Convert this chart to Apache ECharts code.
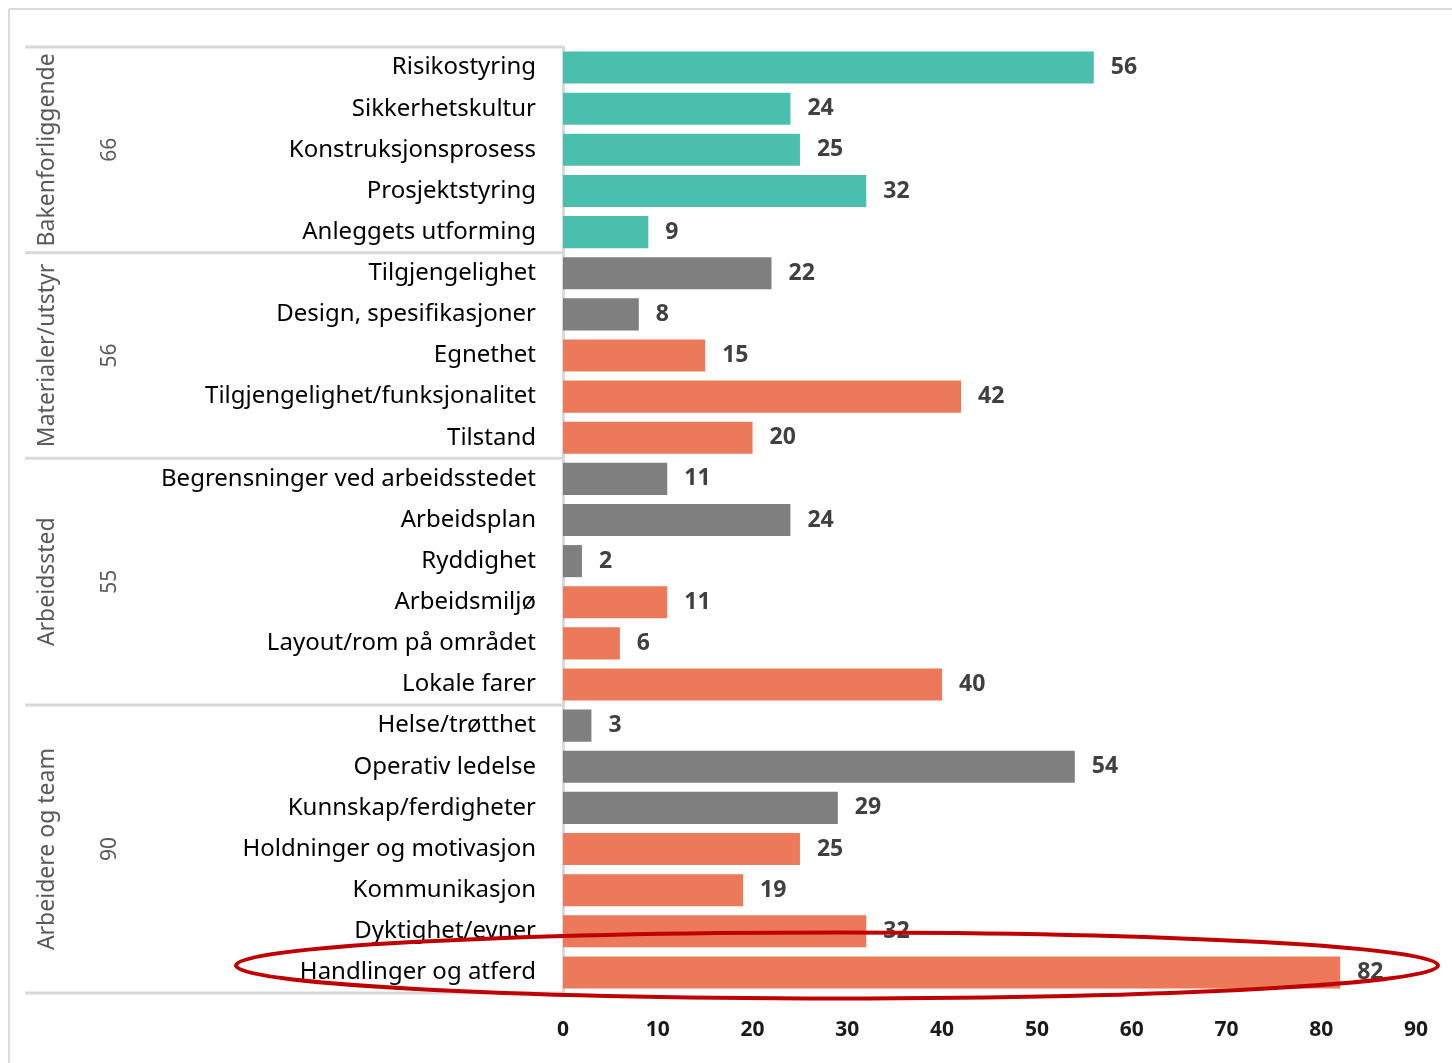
<!DOCTYPE html>
<html>
<head>
<meta charset="utf-8">
<script src="https://cdn.jsdelivr.net/npm/echarts@6/dist/echarts.min.js"></script>
<style>
html,body{margin:0;padding:0;background:#fff;}
#chart{width:1452px;height:1063px;}
</style>
</head>
<body>
<div id="chart"></div>
<script>
const categories = [
  "Risikostyring","Sikkerhetskultur","Konstruksjonsprosess","Prosjektstyring","Anleggets utforming",
  "Tilgjengelighet","Design, spesifikasjoner","Egnethet","Tilgjengelighet/funksjonalitet","Tilstand",
  "Begrensninger ved arbeidsstedet","Arbeidsplan","Ryddighet","Arbeidsmiljø","Layout/rom på området","Lokale farer",
  "Helse/trøtthet","Operativ ledelse","Kunnskap/ferdigheter","Holdninger og motivasjon","Kommunikasjon","Dyktighet/evner","Handlinger og atferd"
];
const values = [56,24,25,32,9, 22,8,15,42,20, 11,24,2,11,6,40, 3,54,29,25,19,32,82];
const colorKeys = ["t","t","t","t","t", "g","g","o","o","o", "g","g","g","o","o","o", "g","g","g","o","o","o","o"];
const groupNames = ["Bakenforliggende","Materialer/utstyr","Arbeidssted","Arbeidere og team"];
const groupTotals = ["66","56","55","90"];
const groupSizes = [5,5,6,7];
const xTicks = [0,10,20,30,40,50,60,70,80,90];

const palette = {t:"#4BBFAE", g:"#7F7F7F", o:"#EC795A"};
const chart = echarts.init(document.getElementById('chart'));
const option = {
  animation:false,
  grid:{left:563, right:36, top:47, bottom:70, containLabel:false},
  xAxis:{
    type:'value', min:xTicks[0], max:xTicks[xTicks.length-1], interval:10,
    axisLine:{show:false}, axisTick:{show:false}, splitLine:{show:false},
    axisLabel:{margin:27, fontSize:21, fontWeight:'bold', color:'#1a1a1a', fontFamily:'Noto Sans'}
  },
  yAxis:{
    type:'category', inverse:true, data:categories,
    axisLine:{show:true, lineStyle:{color:'#D9D9D9', width:3}},
    axisTick:{show:false},
    axisLabel:{margin:27, fontSize:24, color:'#000', fontFamily:'Noto Sans'}
  },
  series:[{
    type:'bar', barCategoryGap:'22%',
    data: values.map((v,i)=>({value:v, itemStyle:{color:palette[colorKeys[i]]}})),
    label:{show:true, position:'right', distance:17, fontSize:23, fontWeight:'bold', color:'#404040', fontFamily:'Noto Sans'}
  }]
};
chart.setOption(option);

// derive group graphics from the axis scale
const c0 = chart.convertToPixel({yAxisIndex:0}, 0);
const c1 = chart.convertToPixel({yAxisIndex:0}, 1);
const band = c1 - c0;
const axisX = chart.convertToPixel({xAxisIndex:0}, 0);
const graphics = [];
// outer frame
graphics.push({type:'line', shape:{x1:9,y1:9,x2:1452,y2:9}, style:{stroke:'#D9D9D9', lineWidth:2}, silent:true});
graphics.push({type:'line', shape:{x1:9,y1:9,x2:9,y2:1063}, style:{stroke:'#D9D9D9', lineWidth:2}, silent:true});
let start = 0;
const bounds = [c0 - band/2];
groupSizes.forEach((n,gi)=>{
  const top = chart.convertToPixel({yAxisIndex:0}, start) - band/2;
  const bot = chart.convertToPixel({yAxisIndex:0}, start+n-1) + band/2;
  bounds.push(bot);
  const mid = (top+bot)/2;
  graphics.push({type:'text', x:47, y:mid, rotation:Math.PI/2,
    style:{text:groupNames[gi], fontSize:23, fill:'#595959', fontFamily:'Noto Sans', align:'center', verticalAlign:'middle'}, silent:true});
  graphics.push({type:'text', x:110, y:mid, rotation:Math.PI/2,
    style:{text:groupTotals[gi], fontSize:21, fill:'#595959', fontFamily:'Noto Sans', align:'center', verticalAlign:'middle'}, silent:true});
  start += n;
});
bounds.forEach(y=>{
  graphics.push({type:'line', shape:{x1:25,y1:y,x2:axisX,y2:y}, style:{stroke:'#D9D9D9', lineWidth:3}, silent:true});
});
// highlight ellipse around the last category
const lastY = chart.convertToPixel({yAxisIndex:0}, categories.length-1);
graphics.push({type:'ellipse', shape:{cx:837, cy:lastY-7, rx:601, ry:33},
  style:{fill:'none', stroke:'#C00000', lineWidth:4}, silent:true, z:100});
chart.setOption({graphic:graphics});
</script>
</body>
</html>
